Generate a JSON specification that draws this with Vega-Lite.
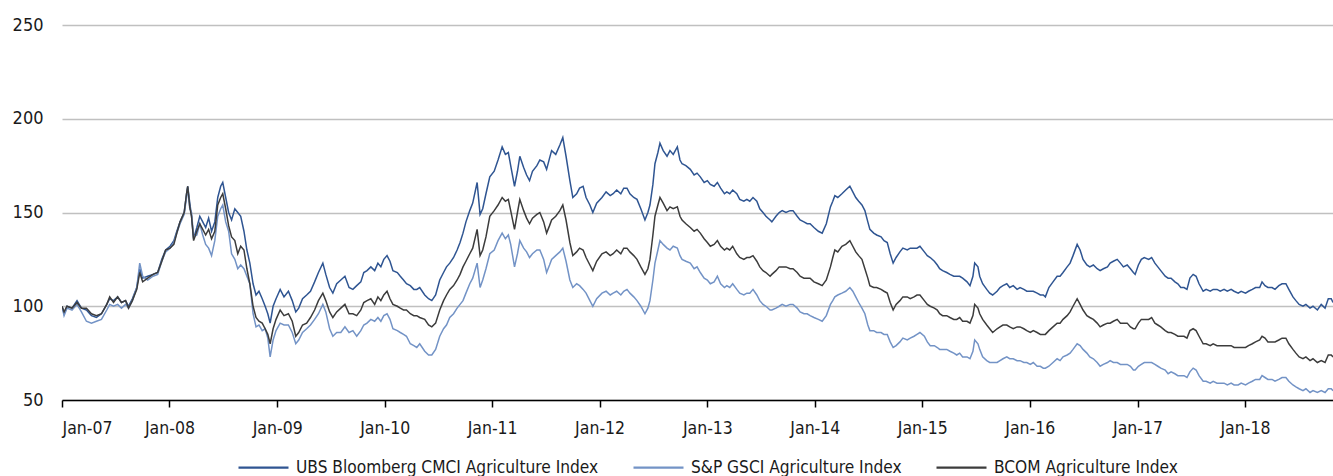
{
"$schema":"https://vega.github.io/schema/vega-lite/v6.json",
"width":1271,"height":375,
"autosize":{"type":"none"},
"padding":{"left":62,"top":25,"right":0,"bottom":76},
"background":"white",
"config":{"font":"Liberation Sans Narrow, DejaVu Sans Condensed, Roboto Condensed, Roboto, sans-serif","view":{"stroke":null}},
"data":{"values":[
{"d":"2007-01-01","u":100,"s":100,"b":100},{"d":"2007-01-08","u":96,"s":95,"b":97},{"d":"2007-01-18","u":100,"s":99,"b":100},{"d":"2007-02-04","u":99,"s":98,"b":99},{"d":"2007-02-21","u":103,"s":101,"b":102},{"d":"2007-03-08","u":99,"s":97,"b":99},{"d":"2007-03-25","u":98,"s":92,"b":99},{"d":"2007-04-11","u":95,"s":91,"b":96},{"d":"2007-04-28","u":94,"s":92,"b":95},{"d":"2007-05-15","u":96,"s":93,"b":96},{"d":"2007-06-02","u":101,"s":98,"b":101},{"d":"2007-06-12","u":104,"s":101,"b":105},{"d":"2007-06-25","u":103,"s":100,"b":102},{"d":"2007-07-09","u":105,"s":101,"b":105},{"d":"2007-07-22","u":102,"s":99,"b":102},{"d":"2007-08-05","u":103,"s":101,"b":103},{"d":"2007-08-15","u":100,"s":99,"b":99},{"d":"2007-08-28","u":104,"s":103,"b":103},{"d":"2007-09-12","u":110,"s":110,"b":109},{"d":"2007-09-22","u":120,"s":123,"b":118},{"d":"2007-10-02","u":115,"s":116,"b":113},{"d":"2007-10-19","u":116,"s":114,"b":115},{"d":"2007-11-06","u":117,"s":116,"b":117},{"d":"2007-11-22","u":118,"s":117,"b":118},{"d":"2007-12-06","u":125,"s":124,"b":124},{"d":"2007-12-19","u":130,"s":129,"b":130},
{"d":"2008-01-03","u":132,"s":131,"b":131},{"d":"2008-01-16","u":135,"s":134,"b":133},{"d":"2008-01-26","u":140,"s":139,"b":139},{"d":"2008-02-06","u":145,"s":144,"b":145},{"d":"2008-02-20","u":150,"s":149,"b":150},{"d":"2008-02-28","u":160,"s":158,"b":160},{"d":"2008-03-03","u":164,"s":163,"b":164},{"d":"2008-03-10","u":155,"s":152,"b":153},{"d":"2008-03-16","u":148,"s":150,"b":148},{"d":"2008-03-23","u":136,"s":137,"b":135},{"d":"2008-04-03","u":142,"s":138,"b":140},{"d":"2008-04-13","u":148,"s":144,"b":144},{"d":"2008-04-23","u":145,"s":138,"b":141},{"d":"2008-05-03","u":142,"s":133,"b":138},{"d":"2008-05-13","u":147,"s":131,"b":141},{"d":"2008-05-23","u":140,"s":127,"b":136},{"d":"2008-06-03","u":145,"s":135,"b":140},{"d":"2008-06-13","u":158,"s":148,"b":154},{"d":"2008-06-23","u":164,"s":152,"b":158},{"d":"2008-06-30","u":166,"s":154,"b":160},{"d":"2008-07-10","u":158,"s":145,"b":152},{"d":"2008-07-20","u":150,"s":140,"b":143},{"d":"2008-07-30","u":146,"s":128,"b":137},{"d":"2008-08-10","u":152,"s":125,"b":135},{"d":"2008-08-20","u":150,"s":120,"b":128},{"d":"2008-08-30","u":148,"s":122,"b":132},{"d":"2008-09-10","u":140,"s":120,"b":130},{"d":"2008-09-20","u":130,"s":116,"b":120},{"d":"2008-09-30","u":123,"s":112,"b":112},{"d":"2008-10-11","u":112,"s":96,"b":100},{"d":"2008-10-21","u":106,"s":89,"b":94},{"d":"2008-10-31","u":108,"s":90,"b":92},{"d":"2008-11-11","u":104,"s":87,"b":91},{"d":"2008-11-21","u":100,"s":88,"b":88},{"d":"2008-11-30","u":96,"s":83,"b":85},{"d":"2008-12-08","u":91,"s":73,"b":80},{"d":"2008-12-18","u":100,"s":82,"b":88},{"d":"2008-12-28","u":104,"s":87,"b":93},
{"d":"2009-01-11","u":109,"s":91,"b":98},{"d":"2009-01-24","u":105,"s":90,"b":95},{"d":"2009-02-08","u":108,"s":90,"b":96},{"d":"2009-02-21","u":103,"s":86,"b":92},{"d":"2009-03-05","u":97,"s":80,"b":84},{"d":"2009-03-15","u":99,"s":82,"b":86},{"d":"2009-03-28","u":104,"s":86,"b":90},{"d":"2009-04-11","u":106,"s":88,"b":91},{"d":"2009-04-24","u":108,"s":90,"b":94},{"d":"2009-05-08","u":113,"s":93,"b":98},{"d":"2009-05-21","u":118,"s":96,"b":103},{"d":"2009-06-05","u":123,"s":101,"b":107},{"d":"2009-06-15","u":117,"s":97,"b":103},{"d":"2009-06-28","u":110,"s":88,"b":97},{"d":"2009-07-09","u":107,"s":84,"b":94},{"d":"2009-07-22","u":112,"s":86,"b":97},{"d":"2009-08-05","u":114,"s":86,"b":99},{"d":"2009-08-19","u":116,"s":89,"b":101},{"d":"2009-09-02","u":110,"s":86,"b":96},{"d":"2009-09-15","u":109,"s":87,"b":96},{"d":"2009-09-28","u":111,"s":84,"b":95},{"d":"2009-10-12","u":113,"s":87,"b":98},{"d":"2009-10-22","u":118,"s":90,"b":102},{"d":"2009-11-02","u":119,"s":91,"b":103},{"d":"2009-11-15","u":121,"s":93,"b":104},{"d":"2009-11-28","u":119,"s":92,"b":101},{"d":"2009-12-09","u":123,"s":94,"b":105},{"d":"2009-12-19","u":121,"s":92,"b":103},{"d":"2009-12-29","u":125,"s":95,"b":106},
{"d":"2010-01-09","u":127,"s":96,"b":108},{"d":"2010-01-19","u":124,"s":93,"b":104},{"d":"2010-01-29","u":119,"s":88,"b":101},{"d":"2010-02-13","u":118,"s":87,"b":100},{"d":"2010-02-23","u":116,"s":86,"b":99},{"d":"2010-03-06","u":114,"s":85,"b":98},{"d":"2010-03-16","u":112,"s":84,"b":98},{"d":"2010-03-29","u":111,"s":80,"b":96},{"d":"2010-04-10","u":109,"s":79,"b":95},{"d":"2010-04-20","u":109,"s":78,"b":95},{"d":"2010-04-30","u":110,"s":80,"b":94},{"d":"2010-05-17","u":106,"s":76,"b":93},{"d":"2010-05-30","u":104,"s":74,"b":90},{"d":"2010-06-10","u":103,"s":74,"b":89},{"d":"2010-06-23","u":106,"s":77,"b":91},{"d":"2010-07-07","u":114,"s":84,"b":98},{"d":"2010-07-20","u":118,"s":88,"b":103},{"d":"2010-07-30","u":121,"s":90,"b":106},{"d":"2010-08-10","u":123,"s":94,"b":109},{"d":"2010-08-23","u":126,"s":96,"b":111},{"d":"2010-09-04","u":130,"s":99,"b":114},{"d":"2010-09-14","u":134,"s":101,"b":117},{"d":"2010-09-24","u":139,"s":103,"b":121},{"d":"2010-10-04","u":145,"s":107,"b":124},{"d":"2010-10-17","u":151,"s":112,"b":128},{"d":"2010-10-27","u":155,"s":115,"b":131},{"d":"2010-11-11","u":166,"s":123,"b":141},{"d":"2010-11-21","u":149,"s":110,"b":127},{"d":"2010-11-30","u":152,"s":114,"b":130},{"d":"2010-12-11","u":160,"s":120,"b":137},{"d":"2010-12-24","u":169,"s":128,"b":148},
{"d":"2011-01-08","u":172,"s":130,"b":151},{"d":"2011-01-21","u":178,"s":135,"b":154},{"d":"2011-02-04","u":185,"s":139,"b":158},{"d":"2011-02-15","u":181,"s":136,"b":156},{"d":"2011-02-25","u":182,"s":138,"b":157},{"d":"2011-03-05","u":175,"s":133,"b":151},{"d":"2011-03-18","u":164,"s":121,"b":141},{"d":"2011-03-28","u":172,"s":128,"b":150},{"d":"2011-04-05","u":180,"s":135,"b":157},{"d":"2011-04-18","u":174,"s":131,"b":151},{"d":"2011-04-28","u":170,"s":129,"b":147},{"d":"2011-05-08","u":167,"s":126,"b":144},{"d":"2011-05-18","u":172,"s":128,"b":147},{"d":"2011-06-02","u":175,"s":130,"b":149},{"d":"2011-06-12","u":178,"s":130,"b":150},{"d":"2011-06-25","u":177,"s":125,"b":145},{"d":"2011-07-05","u":173,"s":118,"b":139},{"d":"2011-07-15","u":179,"s":122,"b":143},{"d":"2011-07-22","u":183,"s":125,"b":146},{"d":"2011-08-05","u":181,"s":127,"b":148},{"d":"2011-08-19","u":186,"s":129,"b":151},{"d":"2011-08-29","u":190,"s":131,"b":154},{"d":"2011-09-09","u":180,"s":124,"b":146},{"d":"2011-09-22","u":167,"s":114,"b":134},{"d":"2011-10-02","u":158,"s":110,"b":127},{"d":"2011-10-15","u":160,"s":112,"b":129},{"d":"2011-10-25","u":163,"s":111,"b":131},{"d":"2011-11-06","u":164,"s":109,"b":130},{"d":"2011-11-16","u":158,"s":107,"b":126},{"d":"2011-11-29","u":154,"s":103,"b":122},{"d":"2011-12-09","u":150,"s":100,"b":119},{"d":"2011-12-22","u":155,"s":104,"b":124},
{"d":"2012-01-09","u":158,"s":107,"b":128},{"d":"2012-01-23","u":161,"s":108,"b":129},{"d":"2012-02-06","u":159,"s":106,"b":127},{"d":"2012-02-16","u":160,"s":107,"b":128},{"d":"2012-02-28","u":162,"s":108,"b":130},{"d":"2012-03-13","u":160,"s":106,"b":128},{"d":"2012-03-23","u":163,"s":108,"b":131},{"d":"2012-04-03","u":163,"s":109,"b":131},{"d":"2012-04-13","u":160,"s":107,"b":129},{"d":"2012-04-26","u":158,"s":105,"b":127},{"d":"2012-05-07","u":157,"s":103,"b":125},{"d":"2012-05-20","u":152,"s":100,"b":121},{"d":"2012-06-03","u":146,"s":96,"b":117},{"d":"2012-06-13","u":150,"s":99,"b":120},{"d":"2012-06-20","u":154,"s":103,"b":125},{"d":"2012-06-30","u":165,"s":114,"b":138},{"d":"2012-07-07","u":176,"s":123,"b":148},{"d":"2012-07-17","u":182,"s":130,"b":154},{"d":"2012-07-24","u":187,"s":135,"b":158},{"d":"2012-08-04","u":183,"s":133,"b":155},{"d":"2012-08-17","u":180,"s":131,"b":151},{"d":"2012-08-27","u":183,"s":130,"b":153},{"d":"2012-09-07","u":181,"s":132,"b":152},{"d":"2012-09-21","u":185,"s":131,"b":153},{"d":"2012-09-30","u":178,"s":127,"b":148},{"d":"2012-10-07","u":176,"s":125,"b":146},{"d":"2012-10-20","u":175,"s":124,"b":144},{"d":"2012-11-04","u":173,"s":123,"b":142},{"d":"2012-11-17","u":170,"s":120,"b":140},{"d":"2012-11-27","u":171,"s":121,"b":141},{"d":"2012-12-08","u":169,"s":118,"b":139},{"d":"2012-12-21","u":166,"s":115,"b":136},
{"d":"2013-01-01","u":167,"s":114,"b":134},{"d":"2013-01-11","u":165,"s":112,"b":132},{"d":"2013-01-24","u":164,"s":113,"b":133},{"d":"2013-02-04","u":166,"s":116,"b":135},{"d":"2013-02-15","u":163,"s":112,"b":132},{"d":"2013-02-28","u":160,"s":110,"b":130},{"d":"2013-03-08","u":161,"s":111,"b":131},{"d":"2013-03-18","u":160,"s":110,"b":130},{"d":"2013-03-28","u":162,"s":112,"b":132},{"d":"2013-04-11","u":160,"s":109,"b":128},{"d":"2013-04-21","u":157,"s":107,"b":126},{"d":"2013-05-05","u":156,"s":106,"b":125},{"d":"2013-05-15","u":157,"s":107,"b":126},{"d":"2013-05-25","u":156,"s":107,"b":126},{"d":"2013-06-05","u":158,"s":109,"b":127},{"d":"2013-06-18","u":156,"s":106,"b":124},{"d":"2013-06-28","u":152,"s":103,"b":121},{"d":"2013-07-09","u":150,"s":101,"b":119},{"d":"2013-07-19","u":148,"s":100,"b":118},{"d":"2013-08-02","u":146,"s":98,"b":116},{"d":"2013-08-08","u":145,"s":98,"b":117},{"d":"2013-08-22","u":148,"s":99,"b":119},{"d":"2013-09-02","u":150,"s":100,"b":121},{"d":"2013-09-12","u":151,"s":101,"b":121},{"d":"2013-09-25","u":150,"s":100,"b":121},{"d":"2013-10-09","u":151,"s":101,"b":120},{"d":"2013-10-19","u":151,"s":101,"b":120},{"d":"2013-11-02","u":148,"s":99,"b":118},{"d":"2013-11-12","u":146,"s":97,"b":116},{"d":"2013-11-25","u":145,"s":96,"b":115},{"d":"2013-12-06","u":144,"s":96,"b":115},{"d":"2013-12-16","u":144,"s":95,"b":115},{"d":"2013-12-29","u":142,"s":94,"b":113},
{"d":"2014-01-13","u":140,"s":93,"b":112},{"d":"2014-01-26","u":139,"s":92,"b":111},{"d":"2014-02-09","u":144,"s":95,"b":114},{"d":"2014-02-23","u":153,"s":101,"b":121},{"d":"2014-03-03","u":156,"s":103,"b":126},{"d":"2014-03-10","u":159,"s":105,"b":130},{"d":"2014-03-20","u":158,"s":106,"b":129},{"d":"2014-04-03","u":160,"s":107,"b":132},{"d":"2014-04-16","u":162,"s":108,"b":133},{"d":"2014-04-30","u":164,"s":110,"b":135},{"d":"2014-05-10","u":161,"s":108,"b":132},{"d":"2014-05-20","u":158,"s":105,"b":129},{"d":"2014-05-30","u":156,"s":102,"b":127},{"d":"2014-06-10","u":154,"s":99,"b":125},{"d":"2014-06-20","u":151,"s":96,"b":120},{"d":"2014-06-30","u":145,"s":90,"b":115},{"d":"2014-07-07","u":141,"s":87,"b":111},{"d":"2014-07-20","u":139,"s":87,"b":110},{"d":"2014-07-30","u":138,"s":86,"b":110},{"d":"2014-08-14","u":137,"s":86,"b":109},{"d":"2014-08-24","u":135,"s":85,"b":108},{"d":"2014-09-04","u":134,"s":85,"b":107},{"d":"2014-09-14","u":128,"s":81,"b":102},{"d":"2014-09-24","u":123,"s":78,"b":98},{"d":"2014-10-04","u":126,"s":79,"b":101},{"d":"2014-10-17","u":129,"s":81,"b":103},{"d":"2014-10-27","u":131,"s":83,"b":105},{"d":"2014-11-11","u":130,"s":82,"b":105},{"d":"2014-11-21","u":131,"s":83,"b":104},{"d":"2014-12-04","u":131,"s":84,"b":105},{"d":"2014-12-14","u":131,"s":85,"b":106},{"d":"2014-12-24","u":132,"s":86,"b":106},
{"d":"2015-01-08","u":129,"s":84,"b":103},{"d":"2015-01-18","u":127,"s":81,"b":101},{"d":"2015-01-28","u":126,"s":79,"b":100},{"d":"2015-02-11","u":124,"s":79,"b":99},{"d":"2015-02-21","u":122,"s":78,"b":98},{"d":"2015-03-01","u":120,"s":77,"b":96},{"d":"2015-03-11","u":119,"s":77,"b":95},{"d":"2015-03-25","u":118,"s":77,"b":95},{"d":"2015-04-05","u":117,"s":76,"b":94},{"d":"2015-04-18","u":116,"s":75,"b":93},{"d":"2015-04-28","u":116,"s":74,"b":93},{"d":"2015-05-08","u":116,"s":75,"b":94},{"d":"2015-05-18","u":115,"s":73,"b":92},{"d":"2015-06-02","u":113,"s":73,"b":92},{"d":"2015-06-12","u":111,"s":72,"b":91},{"d":"2015-06-22","u":116,"s":76,"b":95},{"d":"2015-06-28","u":123,"s":82,"b":101},{"d":"2015-07-09","u":121,"s":80,"b":99},{"d":"2015-07-15","u":116,"s":77,"b":96},{"d":"2015-07-25","u":112,"s":73,"b":93},{"d":"2015-08-08","u":109,"s":71,"b":90},{"d":"2015-08-18","u":107,"s":70,"b":88},{"d":"2015-08-28","u":106,"s":70,"b":86},{"d":"2015-09-12","u":108,"s":70,"b":88},{"d":"2015-09-22","u":110,"s":71,"b":89},{"d":"2015-10-02","u":111,"s":72,"b":90},{"d":"2015-10-15","u":112,"s":73,"b":90},{"d":"2015-10-25","u":110,"s":72,"b":89},{"d":"2015-11-06","u":111,"s":72,"b":88},{"d":"2015-11-19","u":109,"s":71,"b":89},{"d":"2015-11-29","u":110,"s":71,"b":89},{"d":"2015-12-12","u":109,"s":70,"b":88},{"d":"2015-12-22","u":108,"s":70,"b":87},
{"d":"2016-01-03","u":108,"s":69,"b":86},{"d":"2016-01-13","u":108,"s":70,"b":87},{"d":"2016-01-26","u":107,"s":68,"b":86},{"d":"2016-02-06","u":106,"s":68,"b":85},{"d":"2016-02-16","u":106,"s":67,"b":85},{"d":"2016-02-23","u":105,"s":67,"b":85},{"d":"2016-03-06","u":110,"s":68,"b":87},{"d":"2016-03-20","u":113,"s":70,"b":89},{"d":"2016-04-03","u":116,"s":72,"b":91},{"d":"2016-04-13","u":116,"s":71,"b":91},{"d":"2016-04-23","u":118,"s":73,"b":93},{"d":"2016-05-07","u":121,"s":74,"b":95},{"d":"2016-05-17","u":123,"s":75,"b":97},{"d":"2016-05-27","u":127,"s":77,"b":100},{"d":"2016-06-10","u":133,"s":80,"b":104},{"d":"2016-06-20","u":130,"s":79,"b":101},{"d":"2016-06-30","u":125,"s":77,"b":98},{"d":"2016-07-13","u":122,"s":75,"b":95},{"d":"2016-07-23","u":121,"s":73,"b":94},{"d":"2016-08-04","u":122,"s":72,"b":93},{"d":"2016-08-17","u":120,"s":70,"b":91},{"d":"2016-08-27","u":119,"s":68,"b":89},{"d":"2016-09-07","u":120,"s":69,"b":90},{"d":"2016-09-21","u":121,"s":70,"b":91},{"d":"2016-09-30","u":123,"s":71,"b":91},{"d":"2016-10-11","u":124,"s":70,"b":92},{"d":"2016-10-24","u":125,"s":70,"b":93},{"d":"2016-11-04","u":123,"s":69,"b":91},{"d":"2016-11-14","u":121,"s":69,"b":91},{"d":"2016-11-27","u":122,"s":69,"b":91},{"d":"2016-12-08","u":120,"s":68,"b":89},{"d":"2016-12-18","u":118,"s":66,"b":88},{"d":"2016-12-24","u":117,"s":66,"b":88},
{"d":"2017-01-04","u":122,"s":68,"b":91},{"d":"2017-01-14","u":125,"s":69,"b":93},{"d":"2017-01-24","u":126,"s":70,"b":93},{"d":"2017-02-08","u":125,"s":70,"b":93},{"d":"2017-02-18","u":126,"s":70,"b":94},{"d":"2017-03-01","u":123,"s":69,"b":91},{"d":"2017-03-11","u":121,"s":68,"b":90},{"d":"2017-03-21","u":119,"s":67,"b":89},{"d":"2017-04-05","u":116,"s":66,"b":87},{"d":"2017-04-15","u":115,"s":64,"b":86},{"d":"2017-04-25","u":115,"s":65,"b":86},{"d":"2017-05-08","u":113,"s":64,"b":85},{"d":"2017-05-18","u":112,"s":63,"b":84},{"d":"2017-05-28","u":110,"s":63,"b":84},{"d":"2017-06-08","u":110,"s":63,"b":84},{"d":"2017-06-18","u":109,"s":62,"b":83},{"d":"2017-06-28","u":115,"s":65,"b":87},{"d":"2017-07-09","u":117,"s":67,"b":88},{"d":"2017-07-19","u":116,"s":66,"b":87},{"d":"2017-07-29","u":112,"s":63,"b":84},{"d":"2017-08-12","u":108,"s":60,"b":80},{"d":"2017-08-22","u":109,"s":60,"b":80},{"d":"2017-09-05","u":108,"s":59,"b":79},{"d":"2017-09-15","u":109,"s":60,"b":80},{"d":"2017-09-28","u":109,"s":59,"b":79},{"d":"2017-10-09","u":108,"s":59,"b":79},{"d":"2017-10-22","u":109,"s":59,"b":79},{"d":"2017-11-02","u":108,"s":58,"b":79},{"d":"2017-11-15","u":109,"s":59,"b":79},{"d":"2017-11-25","u":108,"s":58,"b":78},{"d":"2017-12-09","u":107,"s":58,"b":78},{"d":"2017-12-19","u":108,"s":59,"b":78},
{"d":"2018-01-03","u":107,"s":58,"b":78},{"d":"2018-01-13","u":108,"s":59,"b":79},{"d":"2018-01-26","u":109,"s":60,"b":80},{"d":"2018-02-06","u":110,"s":61,"b":81},{"d":"2018-02-20","u":110,"s":61,"b":82},{"d":"2018-02-28","u":113,"s":63,"b":84},{"d":"2018-03-10","u":111,"s":62,"b":83},{"d":"2018-03-20","u":110,"s":61,"b":81},{"d":"2018-04-03","u":110,"s":61,"b":81},{"d":"2018-04-13","u":109,"s":60,"b":81},{"d":"2018-04-26","u":111,"s":61,"b":82},{"d":"2018-05-07","u":112,"s":62,"b":83},{"d":"2018-05-20","u":112,"s":62,"b":83},{"d":"2018-05-30","u":109,"s":60,"b":80},{"d":"2018-06-13","u":105,"s":58,"b":77},{"d":"2018-06-23","u":103,"s":57,"b":75},{"d":"2018-07-04","u":101,"s":56,"b":73},{"d":"2018-07-17","u":100,"s":55,"b":72},{"d":"2018-07-27","u":101,"s":56,"b":73},{"d":"2018-08-10","u":99,"s":54,"b":71},{"d":"2018-08-20","u":100,"s":55,"b":72},{"d":"2018-09-04","u":98,"s":54,"b":70},{"d":"2018-09-17","u":101,"s":55,"b":71},{"d":"2018-09-30","u":99,"s":54,"b":70},{"d":"2018-10-11","u":104,"s":56,"b":74},{"d":"2018-10-21","u":104,"s":56,"b":74},{"d":"2018-10-27","u":102,"s":55,"b":73}
]},
"transform":[{"fold":["u","s","b"],"as":["k","v"]}],
"mark":{"type":"line","strokeWidth":1.5,"clip":true},
"encoding":{
"x":{"field":"d","type":"temporal",
"scale":{"type":"utc","nice":false,"domain":[{"year":2007,"month":1,"date":1,"utc":true},{"year":2018,"month":10,"date":27,"utc":true}]},
"axis":{"title":null,"labelExpr":"utcFormat(datum.value, '%b-%y')",
"values":[{"year":2007,"month":1,"date":1,"utc":true},{"year":2008,"month":1,"date":1,"utc":true},{"year":2009,"month":1,"date":1,"utc":true},{"year":2010,"month":1,"date":1,"utc":true},{"year":2011,"month":1,"date":1,"utc":true},{"year":2012,"month":1,"date":1,"utc":true},{"year":2013,"month":1,"date":1,"utc":true},{"year":2014,"month":1,"date":1,"utc":true},{"year":2015,"month":1,"date":1,"utc":true},{"year":2016,"month":1,"date":1,"utc":true},{"year":2017,"month":1,"date":1,"utc":true},{"year":2018,"month":1,"date":1,"utc":true}],
"grid":false,"domainColor":"#000000","domainWidth":1.5,"tickColor":"#000000","tickWidth":1.5,"tickSize":7,"labelPadding":12,"labelFontSize":17.5,"labelColor":"#1a1a1a","labelOverlap":false}},
"y":{"field":"v","type":"quantitative",
"scale":{"domain":[50,250],"nice":false,"zero":false},
"axis":{"title":null,"values":[50,100,150,200,250],"grid":true,"gridColor":"#c0c0c0","gridWidth":1.5,"domain":false,"ticks":false,"tickSize":0,"labelPadding":19,"labelFontSize":18,"labelColor":"#1a1a1a"}},
"color":{"field":"k","type":"nominal",
"scale":{"domain":["u","s","b"],"range":["#2f5592","#7393c6","#3c3c3c"]},
"legend":{"title":null,"orient":"none","legendX":175,"legendY":416,"direction":"horizontal","symbolType":"stroke","symbolSize":2500,"symbolStrokeWidth":2.2,"labelOffset":6,"columnPadding":30,"padding":0,"labelFontSize":17.2,"labelColor":"#1a1a1a","labelLimit":500,
"labelExpr":"datum.value == 'u' ? 'UBS Bloomberg CMCI Agriculture Index' : datum.value == 's' ? 'S&P GSCI Agriculture Index' : 'BCOM Agriculture Index'"}}
}
}
